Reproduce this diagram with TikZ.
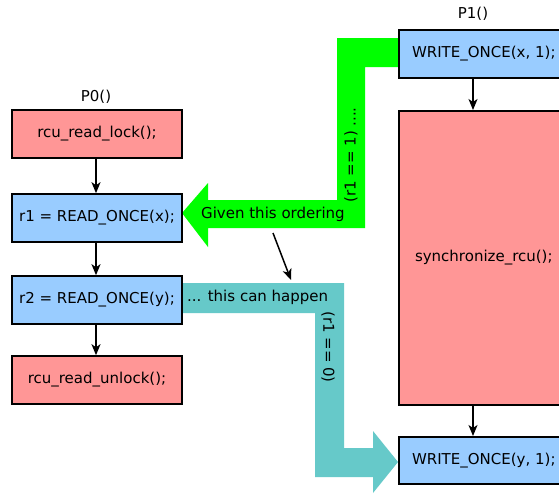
\documentclass[tikz,border=0pt]{standalone}
\usepackage{fontspec}
\setmainfont{DejaVu Sans}
\usetikzlibrary{arrows.meta}
\definecolor{redfill}{RGB}{255,150,150}
\definecolor{bluefill}{RGB}{153,204,255}
\definecolor{greenfill}{RGB}{0,255,0}
\definecolor{tealfill}{RGB}{102,201,201}
\tikzset{
  box/.style={draw=black, line width=1.6pt, minimum height=48pt, inner sep=0pt, font=\fontsize{15}{18}\selectfont},
  leftbox/.style={box, minimum width=170pt},
  rightbox/.style={box, minimum width=170pt},
  redbox/.style={fill=redfill},
  bluebox/.style={fill=bluefill},
  flow/.style={-{Stealth[length=11pt,width=9pt,inset=3pt]}, line width=1.5pt},
  lbl/.style={font=\fontsize{15}{18}\selectfont, inner sep=0pt},
}
\begin{document}
\begin{tikzpicture}[x=1pt,y=-1pt]
\useasboundingbox (0,0) rectangle (559,493);
\clip (0,0) rectangle (559,493);
\fill[white] (0,0) rectangle (559,493);
% big arrows
\fill[greenfill] (398,38) -- (337,38) -- (337,200) -- (208,200) -- (208,183) -- (182,213) -- (208,247) -- (208,228) -- (365,228) -- (365,67) -- (398,67) -- cycle;
\fill[tealfill] (182,283) -- (344,283) -- (344,448) -- (373,448) -- (373,431) -- (398,462) -- (373,493) -- (373,477) -- (315,477) -- (315,313) -- (182,313) -- cycle;
% P0
\node[lbl] (p0) at (96,97) {P0()};
\node[leftbox, redbox] (lock) at (97,134) {rcu\_read\_lock();};
\node[leftbox, bluebox] (r1) at (97,218) {r1 = READ\_ONCE(x);};
\node[leftbox, bluebox] (r2) at (97,300) {r2 = READ\_ONCE(y);};
\node[leftbox, redbox] (unlock) at (97,380) {rcu\_read\_unlock();};
% P1
\node[lbl] (p1) at (473,14) {P1()};
\node[rightbox, bluebox, anchor=north west] (wx) at (398,29) {WRITE\_ONCE(x, 1);};
\node[box, redbox, minimum width=170pt, minimum height=294pt, anchor=north west] (sync) at (398,110) {synchronize\_rcu();};
\node[rightbox, bluebox, anchor=north west, minimum height=47pt] (wy) at (398,436) {WRITE\_ONCE(y, 1);};
% connectors
\draw[flow] (lock.south -| 96,0) -- (r1.north -| 96,0);
\draw[flow] (r1.south -| 96,0) -- (r2.north -| 96,0);
\draw[flow] (r2.south -| 96,0) -- (unlock.north -| 96,0);
\draw[flow] (wx.south -| 473,0) -- (sync.north -| 473,0);
\draw[flow] (sync.south -| 473,0) -- (wy.north -| 473,0);
% labels on big arrows
\node[lbl, anchor=west] (given) at (201,214) {Given this ordering};
\node[lbl, rotate=90] (r1one) at (351,155) {(r1 == 1) ....};
\node[lbl, anchor=west] (happen) at (187,297) {... this can happen};
\node[lbl, rotate=-90] (r1zero) at (328,347) {(r1 == 0)};
\coordinate (s1) at (273,233);
\coordinate (s2) at (291,280);
\draw[flow] (s1) -- (s2);
\end{tikzpicture}
\end{document}
